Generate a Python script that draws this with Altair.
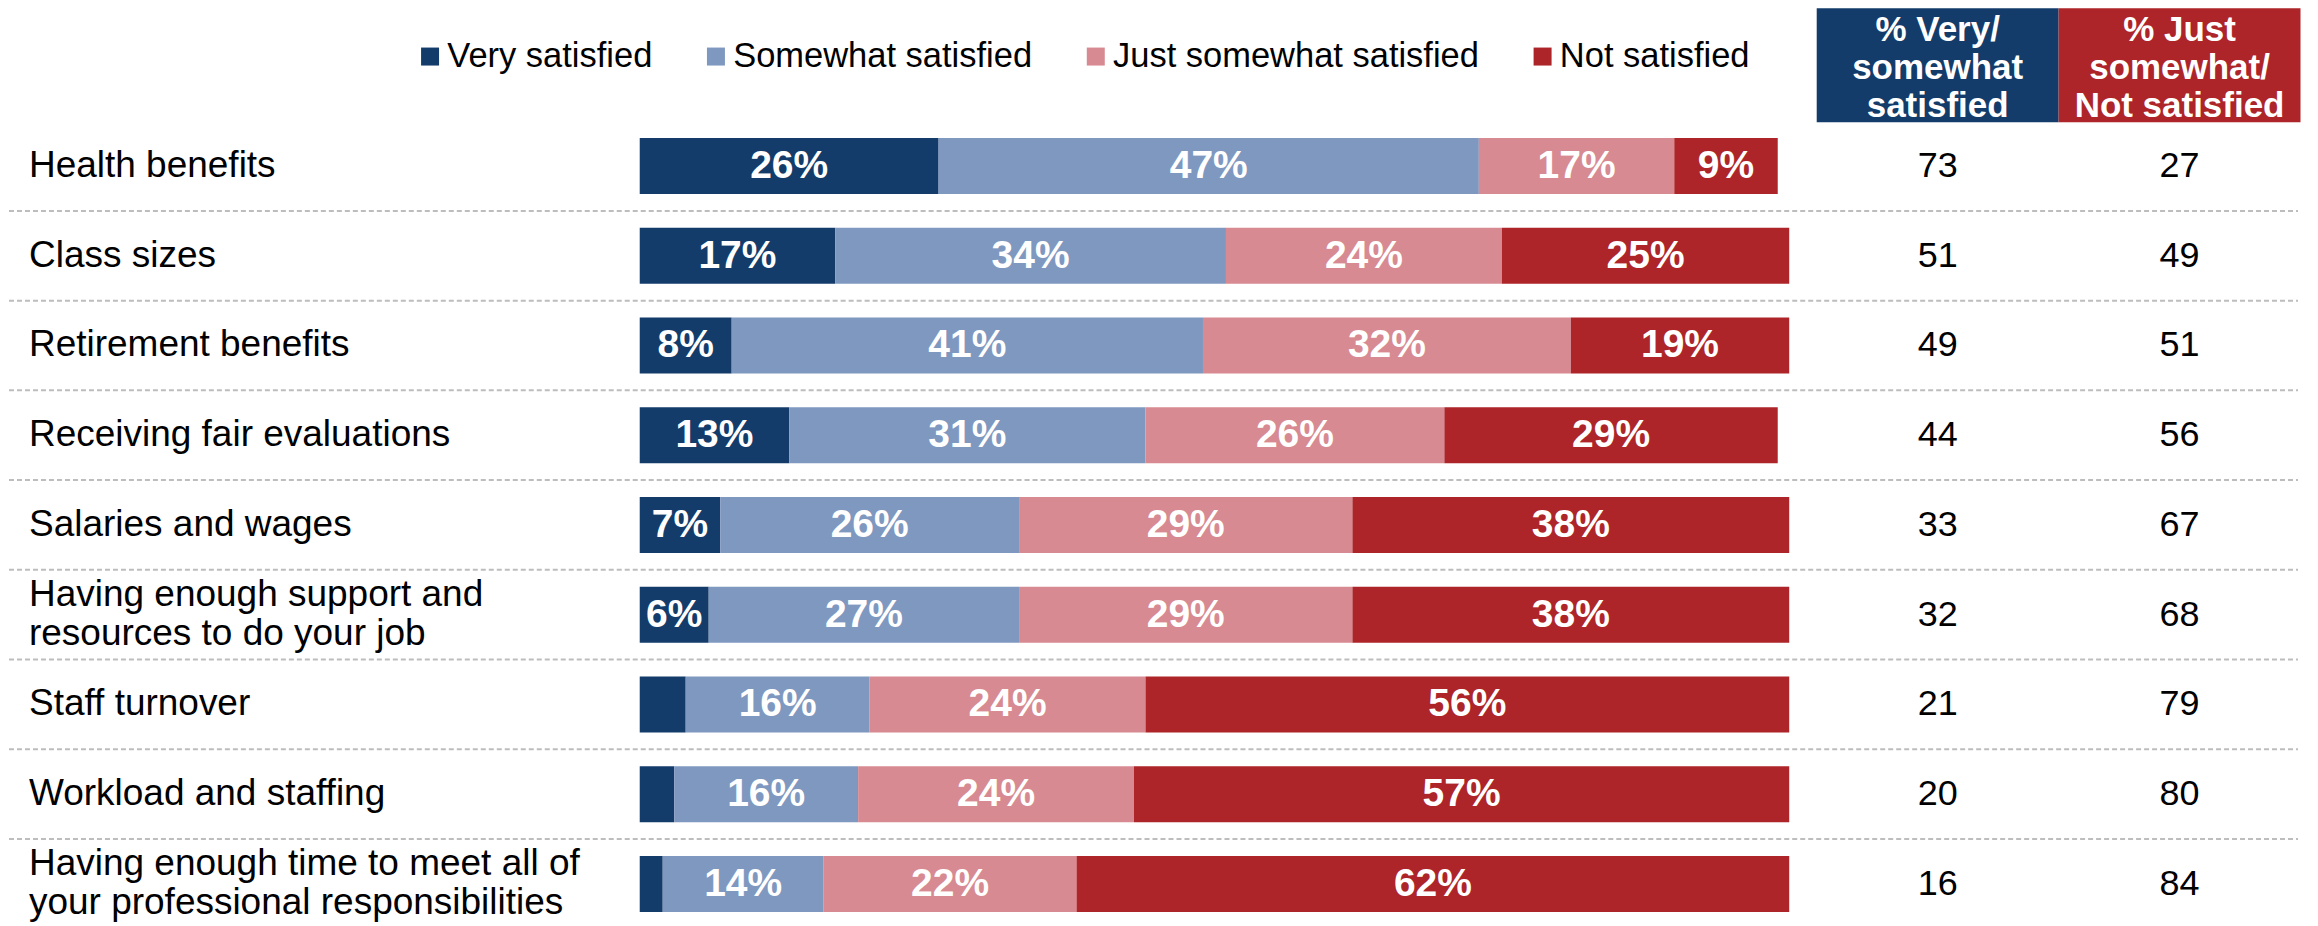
import altair as alt
import pandas as pd

categories = [
    "Health benefits",
    "Class sizes",
    "Retirement benefits",
    "Receiving fair evaluations",
    "Salaries and wages",
    "Having enough support and\nresources to do your job",
    "Staff turnover",
    "Workload and staffing",
    "Having enough time to meet all of\nyour professional responsibilities",
]
levels = ["Very satisfied", "Somewhat satisfied", "Just somewhat satisfied", "Not satisfied"]
very = [26, 17, 8, 13, 7, 6, 4, 3, 2]
somewhat = [47, 34, 41, 31, 26, 27, 16, 16, 14]
just = [17, 24, 32, 26, 29, 29, 24, 24, 22]
notsat = [9, 25, 19, 29, 38, 38, 56, 57, 62]
pct_pos = [73, 51, 49, 44, 33, 32, 21, 20, 16]
pct_neg = [27, 49, 51, 56, 67, 68, 79, 80, 84]
summary_cols = ["pos", "neg"]
summary_headers = ["% Very/\nsomewhat\nsatisfied", "% Just\nsomewhat/\nNot satisfied"]
level_colors = ["#133C6B", "#7F98C0", "#D78A91", "#AD2429"]
header_colors = ["#133C6B", "#AD2429"]

FONT = "Liberation Sans"
LABEL_LH = 39

# segments
rows = []
for i, cat in enumerate(categories):
    start = 0
    for lev, vals in zip(levels, [very, somewhat, just, notsat]):
        v = vals[i]
        rows.append({"category": cat, "level": lev, "value": v,
                     "start": start, "end": start + v,
                     "mid": start + v / 2, "lab": f"{v}%"})
        start += v
seg_df = pd.DataFrame(rows)

num_rows = []
for i, cat in enumerate(categories):
    num_rows.append({"category": cat, "col": "pos", "num": pct_pos[i]})
    num_rows.append({"category": cat, "col": "neg", "num": pct_neg[i]})
num_df = pd.DataFrame(num_rows)

head_df = pd.DataFrame({"col": summary_cols, "header": summary_headers, "color": header_colors})
cat_df = pd.DataFrame({"category": categories})
sep_df = pd.DataFrame({"category": categories[:-1]})

y_scale = alt.Scale(domain=categories, range=[113, 921], paddingInner=0, paddingOuter=0)
x_bar = alt.Scale(domain=[0, 100], range=[631, 1781])
x_col = alt.Scale(type="band", domain=summary_cols, range=[1808.5, 2292.5], paddingInner=0, paddingOuter=0)

seps = alt.Chart(sep_df).mark_rule(strokeDash=[5, 3], color="#BDBDBD", strokeWidth=2).encode(
    x=alt.value(0), x2=alt.value(2290),
    y=alt.Y("category:N", scale=y_scale, axis=None, bandPosition=1),
)

label_props = dict(align="left", baseline="middle", font=FONT, fontSize=37,
                   lineBreak="\n", lineHeight=LABEL_LH, color="black")
labels_one = alt.Chart(cat_df).transform_filter(
    "indexof(datum.category, '\\n') < 0"
).mark_text(**label_props).encode(
    x=alt.value(20),
    y=alt.Y("category:N", scale=y_scale, axis=None),
    text="category:N",
)
labels_two = alt.Chart(cat_df).transform_filter(
    "indexof(datum.category, '\\n') >= 0"
).mark_text(dy=-LABEL_LH / 2, **label_props).encode(
    x=alt.value(20),
    y=alt.Y("category:N", scale=y_scale, axis=None),
    text="category:N",
)

bars = alt.Chart(seg_df).mark_bar(size=56).encode(
    x=alt.X("start:Q", scale=x_bar, axis=None),
    x2="end:Q",
    y=alt.Y("category:N", scale=y_scale, axis=None),
    color=alt.Color(
        "level:N",
        scale=alt.Scale(domain=levels, range=level_colors),
        legend=alt.Legend(
            orient="none", legendX=404, legendY=31, direction="horizontal", title=None,
            symbolType="square", symbolSize=324, symbolStrokeWidth=0,
            labelFontSize=34.5, labelFont=FONT, labelColor="black",
            columnPadding=46, labelOffset=0, padding=0, labelLimit=0,
        ),
    ),
)

bar_text = alt.Chart(seg_df).transform_filter("datum.value >= 5").mark_text(
    font=FONT, fontSize=39, fontWeight="bold", color="white", baseline="middle", align="center"
).encode(
    x=alt.X("mid:Q", scale=x_bar, axis=None),
    y=alt.Y("category:N", scale=y_scale, axis=None),
    text="lab:N",
)

head_rect = alt.Chart(head_df).mark_rect().encode(
    x=alt.X("col:N", scale=x_col, axis=None),
    y=alt.value(0), y2=alt.value(114),
    color=alt.Color("color:N", scale=None),
)

head_text = alt.Chart(head_df).mark_text(
    font=FONT, fontSize=35, fontWeight="bold", color="white", lineBreak="\n",
    lineHeight=38, baseline="middle", align="center"
).encode(
    x=alt.X("col:N", scale=x_col, axis=None),
    y=alt.value(22),
    text="header:N",
)

nums = alt.Chart(num_df).mark_text(
    font=FONT, fontSize=36, color="black", baseline="middle", align="center"
).encode(
    x=alt.X("col:N", scale=x_col, axis=None),
    y=alt.Y("category:N", scale=y_scale, axis=None),
    text="num:Q",
)

chart = alt.layer(seps, labels_one, labels_two, bars, bar_text, head_rect, head_text, nums).properties(
    width=2302, height=910, padding=0
).resolve_scale(x="independent", color="independent").configure_view(stroke=None)

chart.save("out.html", embed_options={"renderer": "svg", "actions": False})
